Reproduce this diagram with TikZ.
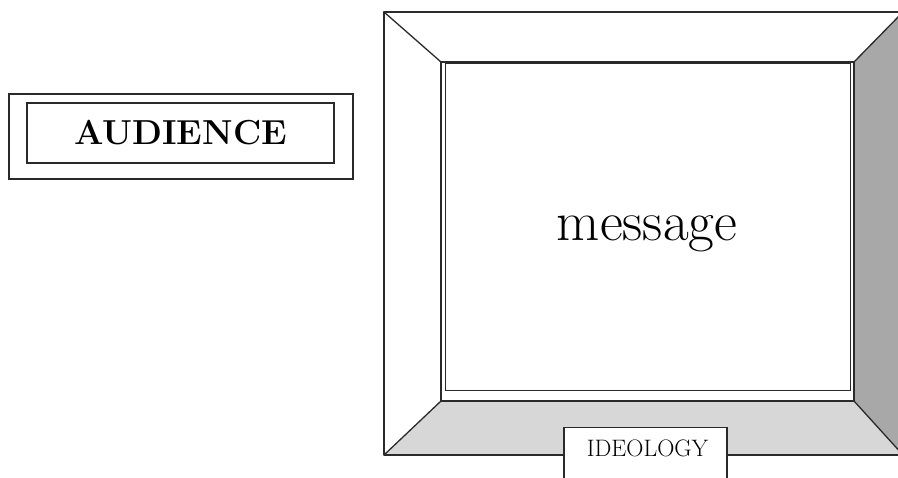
\documentclass[tikz,border=0pt]{standalone}
\usetikzlibrary{positioning}
\definecolor{floorgray}{HTML}{D7D7D7}
\definecolor{wallgray}{HTML}{A8A8A8}
\definecolor{edgegray}{HTML}{2A2A2A}
\tikzset{
  frameline/.style={draw=edgegray, line width=1.3pt, line join=round},
  thinline/.style={draw=edgegray, line width=1pt},
  labelbox/.style={draw=edgegray, line width=1.1pt, fill=white, inner sep=0pt}
}
\begin{document}
\begin{tikzpicture}[x=1pt,y=-1pt]
\useasboundingbox (0,0) rectangle (898,478);
\clip (0,0) rectangle (898,478);
% frame panels
\fill[floorgray] (384,455) -- (441,401) -- (854,401) -- (903,455) -- cycle;
\fill[wallgray] (854,62) -- (903,12) -- (903,455) -- (854,401) -- cycle;
\draw[frameline] (384,12) rectangle (903,455);
\draw[frameline] (384,12) -- (441,62);
\draw[frameline] (384,455) -- (441,401);
\draw[frameline] (903,12) -- (854,62);
\draw[frameline] (903,455) -- (854,401);
\draw[frameline] (441,62) rectangle (854,401);
\draw[thinline, fill=white] (445,64) rectangle (850,391);
\node[font=\fontsize{56}{56}\selectfont] (msg) at (647,234) {message};
% ideology tab
\node[labelbox, minimum width=163pt, minimum height=70pt, anchor=north] (ideo) at (645.5,427) {};
\node[font=\fontsize{23.8}{24}\selectfont] (ideotxt) at (647.5,448) {IDEOLOGY};
% audience
\node[labelbox, minimum width=344pt, minimum height=85pt] (audframe) at (181,136.5) {};
\node[labelbox, minimum width=307pt, minimum height=60pt, font=\bfseries\fontsize{34.7}{35}\selectfont] (aud) at (180.5,133) {AUDIENCE};
\end{tikzpicture}
\end{document}
